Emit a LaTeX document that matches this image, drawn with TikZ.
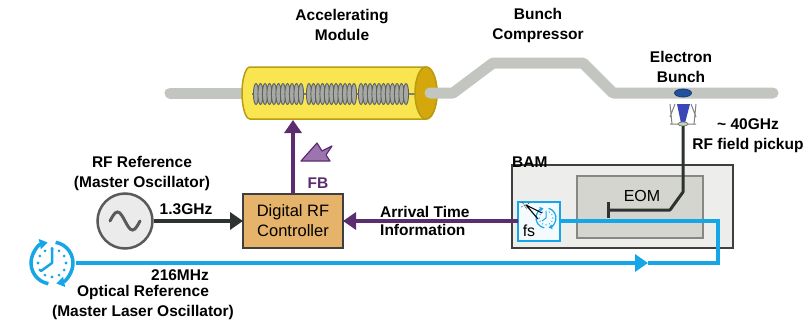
\documentclass[tikz,border=0pt]{standalone}
\usepackage{fontspec}
\setmainfont{Liberation Sans}
\usetikzlibrary{arrows.meta, shapes.geometric, positioning, calc}

\definecolor{beamgray}{HTML}{C3C6C0}
\definecolor{modyellow}{HTML}{F8E550}
\definecolor{modedge}{HTML}{B99C12}
\definecolor{modcap}{HTML}{D4A80C}
\definecolor{cavfill}{HTML}{A7A9A4}
\definecolor{cavedge}{HTML}{5E605C}
\definecolor{fbpurple}{HTML}{5C2D6E}
\definecolor{fblight}{HTML}{9C74B0}
\definecolor{optblue}{HTML}{14A6E6}
\definecolor{ctrlfill}{HTML}{E6B36A}
\definecolor{bamfill}{HTML}{EDEDEB}
\definecolor{bamedge}{HTML}{3F3F3F}
\definecolor{eomfill}{HTML}{D3D5CE}
\definecolor{eomedge}{HTML}{858885}
\definecolor{oscfill}{HTML}{EBEBEB}
\definecolor{oscedge}{HTML}{5A5A5A}
\definecolor{rfdark}{HTML}{2E3331}
\definecolor{bunchblue}{HTML}{22519F}
\definecolor{pickblue}{HTML}{3B46B8}

\tikzset{
  lbl/.style={font=\bfseries\fontsize{15.5}{20}\selectfont, align=center, inner sep=0pt},
  boxtxt/.style={font=\fontsize{16.5}{20}\selectfont, align=center, inner sep=0pt},
  beam/.style={draw=beamgray, line width=11pt, line cap=round, line join=round},
  modbody/.style={fill=modyellow, draw=modedge, line width=1.5pt},
  modcapfill/.style={fill=modcap, draw=modedge, line width=1.5pt},
  cavring/.style={fill=cavfill, draw=cavedge, line width=0.9pt},
  cavaxis/.style={draw=cavedge!80, line width=2.5pt},
  rfline/.style={draw=rfdark, line width=4pt, -{Triangle[length=13pt, width=17pt]}},
  fbline/.style={draw=fbpurple, line width=4pt, -{Triangle[length=13pt, width=17pt]}},
  optline/.style={draw=optblue, line width=4pt},
  pickline/.style={draw=rfdark, line width=3pt, line join=round},
  clockring/.style={draw=optblue, line width=3.5pt, -{Triangle[length=8pt, width=10pt]}},
  oscbox/.style={circle, fill=oscfill, draw=oscedge, line width=2.5pt, minimum size=55pt, inner sep=0pt},
  ctrlbox/.style={rectangle, fill=ctrlfill, draw=bamedge, line width=2pt, minimum width=100pt, minimum height=54pt, outer sep=0pt},
  bambox/.style={rectangle, fill=bamfill, draw=bamedge, line width=2.5pt, minimum width=221pt, minimum height=83pt, outer sep=0pt},
  eombox/.style={rectangle, fill=eomfill, draw=eomedge, line width=1.5pt, minimum width=126pt, minimum height=62pt},
  fsbox/.style={rectangle, fill=white!95!optblue, draw=optblue, line width=2pt, minimum width=42pt, minimum height=39pt, outer sep=0pt},
}

\begin{document}
\begin{tikzpicture}[x=1pt, y=-1pt]
\useasboundingbox (0,0) rectangle (809,324);

% beam pipe in front of the module
\draw[beam] (170,93) -- (250,93);

% accelerating module with its cavities
\filldraw[modbody] (250,67) -- (426,67) arc[start angle=270, end angle=450, x radius=11, y radius=26]
  -- (250,119) arc[start angle=90, end angle=270, x radius=8, y radius=26] -- cycle;
\draw[cavaxis] (252,94) -- (418,94);
\foreach \g in {256,309,361}
  \foreach \i in {0,...,10}
    \filldraw[cavring] (\g+\i*4.5,94) ellipse[x radius=2.6, y radius=10.5];
\filldraw[modcapfill] (426,93) ellipse[x radius=11, y radius=26];
\coordinate (modbot) at (293,120);

% beam pipe with the chicane
\draw[beam] (430,93) -- (453,93) -- (493,63) -- (583,63) -- (613,93) -- (773,93);

% bunch and pickup
\node (bunch) [ellipse, fill=bunchblue, draw=bunchblue!70!black, line width=0.8pt, minimum width=17pt, minimum height=8pt, inner sep=0pt] at (683,93) {};
\fill[pickblue] (677,104) -- (690,104) -- (685,123) -- (681,123) -- cycle;
\draw[gray, line width=1pt] (670,104) -- (672,124) (675,104) -- (670,117) (696,104) -- (694,124) (691,104) -- (696,117) (670,124) -- (696,124);
\filldraw[fill=green!25!gray!40, draw=gray, line width=0.8pt] (683,124) ellipse[x radius=5, y radius=2];
\coordinate (pickup) at (683,126);

% labels
\node (lblAccel) [lbl] at (342,25) {Accelerating\\Module};
\node (lblBC) [lbl] at (538,25) {Bunch\\Compressor};
\node (lblBunch) [lbl] at (681,67) {Electron\\Bunch};
\node (lblPickup) [lbl] at (748,136) {\textasciitilde{} 40GHz\\RF field pickup};
\node (lblRF) [lbl] at (142,173) {RF Reference\\(Master Oscillator)};
\node (lblRFfreq) [lbl] at (186,209) {1.3GHz};
\node (lblFB) [lbl, text=fbpurple] at (318,183) {FB};
\node (lblArrival) [lbl, font=\bfseries\fontsize{15.5}{18}\selectfont, align=left, anchor=west] at (380,221) {Arrival Time\\Information};
\node (lblOptFreq) [lbl] at (180,275) {216MHz};
\node (lblOpt) [lbl] at (143,302) {Optical Reference\\(Master Laser Oscillator)};

% feedback icon
\filldraw[fill=fblight, draw=fbpurple, line width=1.2pt, line join=round] (301,161) -- (317,143) -- (322,151) -- (332,146) -- (326,155) -- (330,161) -- cycle;

% RF master oscillator
\node (osc) [oscbox] at (125,221) {};
\draw[draw=oscedge, line width=3pt, line cap=round] (osc.center) ++(-15,0) sin ++(7.5,-9) cos ++(7.5,9) sin ++(7.5,9) cos ++(7.5,-9);

% controller
\node (ctrl) [ctrlbox, boxtxt] at (293,221) {Digital RF\\Controller};

% arrival time monitor
\node (bam) [bambox] at (622.5,206.5) {};
\node (lblBAM) [lbl, anchor=south west] at ([yshift=-3pt]bam.north west) {BAM};
\node (eom) [eombox] at (640,207) {};
\node (lblEOM) [boxtxt, font=\fontsize{16}{20}\selectfont] at (642,196) {EOM};
\node (fs) [fsbox] at (539,221) {};
\node (lblfs) [boxtxt, font=\fontsize{16}{20}\selectfont] at (529,231) {fs};
% small clock and divider inside fs box
\draw[optblue, line width=1.2pt, -{Triangle[length=3.5pt, width=4.5pt]}] (546,218) ++(100:10) arc[start angle=100, end angle=255, radius=10];
\draw[optblue, line width=1.2pt, -{Triangle[length=3.5pt, width=4.5pt]}] (546,218) ++(285:10) arc[start angle=285, end angle=435, radius=10];
\foreach \a in {0,30,...,330}
  \fill[optblue] (546,218) ++(\a:6.8) circle[radius=0.7];
\draw[optblue, line width=1pt] (546,218) -- ++(0,-6) (546,218) -- ++(-4,3);
\draw[black, line width=1.1pt] (526,205) -- (542,213) (526,205) -- (538,219);
\draw[black, line width=0.6pt, densely dotted] (521,207) -- (530,203) (522,202) -- (527,209);

% optical master clock
\node (clock) [circle, minimum size=48pt, inner sep=0pt] at (52,263) {};
\draw[clockring] (clock.center) ++(100:21) arc[start angle=100, end angle=258, radius=21];
\draw[clockring] (clock.center) ++(280:21) arc[start angle=280, end angle=438, radius=21];
\foreach \a in {0,30,...,330}
  \fill[optblue] (clock.center) ++(\a:14) circle[radius=1.6];
\draw[optblue, line width=2.5pt, line cap=round] (clock.center) -- ++(0,-15) (clock.center) -- ++(-11,8);

% connections
\coordinate (optArrow) at (648,263);
\coordinate (optTurn) at (718,263);
\coordinate (eomTee) at (607,210);
\draw[optline, -{Triangle[length=13pt, width=17pt]}] (clock.east) -- (optArrow);
\draw[optline] (optArrow) -- (optTurn) |- (fs.east);
\draw[pickline, -{Bar[width=16pt]}] (pickup) -- (683,192) -- (670,210) -- (eomTee);
\draw[rfline] (osc) -- (ctrl);
\draw[fbline] (ctrl.north) -- (modbot);
\draw[fbline] (fs.west) -- (fs.west -| ctrl.east);
\end{tikzpicture}
\end{document}
